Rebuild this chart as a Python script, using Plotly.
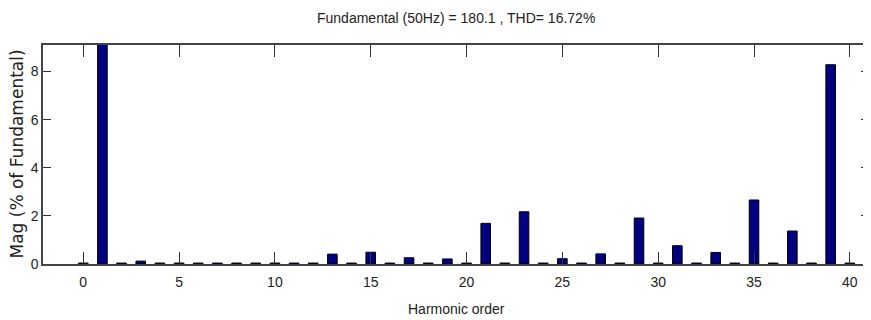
import plotly.graph_objects as go

orders = list(range(0, 41))
mags = [0.04, 100, 0.04, 0.12, 0.04, 0.04, 0.04, 0.04, 0.04, 0.04,
        0.04, 0.04, 0.04, 0.41, 0.04, 0.49, 0.04, 0.26, 0.04, 0.21,
        0.04, 1.69, 0.04, 2.17, 0.04, 0.22, 0.04, 0.42, 0.04, 1.91,
        0.04, 0.76, 0.04, 0.48, 0.04, 2.66, 0.04, 1.37, 0.04, 8.28,
        0.04]
xticks = [0, 5, 10, 15, 20, 25, 30, 35, 40]
yticks = [0, 2, 4, 6, 8]
title = "Fundamental (50Hz) = 180.1 , THD= 16.72%"
xlabel = "Harmonic order"
ylabel = "Mag (% of Fundamental)"

fam = "Liberation Sans, Arial"

fig = go.Figure(go.Bar(
    x=orders, y=mags, width=0.5,
    marker=dict(color="#000080", line=dict(color="black", width=1)),
))

# page body has an 8px default margin, so the figure is drawn 8px smaller
fig.update_layout(
    width=863, height=312,
    margin=dict(l=35, r=2, t=37, b=56, autoexpand=False),
    paper_bgcolor="white", plot_bgcolor="white",
    showlegend=False,
    font=dict(family=fam, size=14, color="#222"),
    annotations=[
        dict(text=title, xref="paper", yref="paper", x=0.5, y=1,
             yshift=27, xanchor="center", yanchor="middle", showarrow=False,
             font=dict(family=fam, size=14, color="#222")),
        dict(text=xlabel, xref="paper", yref="paper", x=0.5, y=0,
             yshift=-45, xanchor="center", yanchor="middle", showarrow=False,
             font=dict(family=fam, size=14, color="#222")),
        dict(text=ylabel, xref="paper", yref="paper", x=0, y=0.5,
             xshift=-27, xanchor="center", yanchor="middle", showarrow=False,
             textangle=-90,
             font=dict(family="DejaVu Sans", size=17, color="#222")),
    ],
)
fig.update_xaxes(
    range=[-2.1, 41.0], tickvals=xticks, ticks="inside", ticklen=12,
    tickcolor="#333", tickwidth=1.3, showline=True, linecolor="#444",
    linewidth=1.5, mirror="ticks", showgrid=False, zeroline=False,
    automargin=False, ticklabelstandoff=4,
    tickfont=dict(family=fam, size=14, color="#222"),
)
fig.update_yaxes(
    range=[0, 9.1], tickvals=yticks, ticks="inside", ticklen=8,
    tickcolor="#333", tickwidth=1.3, showline=True, linecolor="#444",
    linewidth=1.5, mirror="ticks", showgrid=False, zeroline=False,
    automargin=False,
    tickfont=dict(family=fam, size=14, color="#222"),
)

fig.write_html("out.html")
